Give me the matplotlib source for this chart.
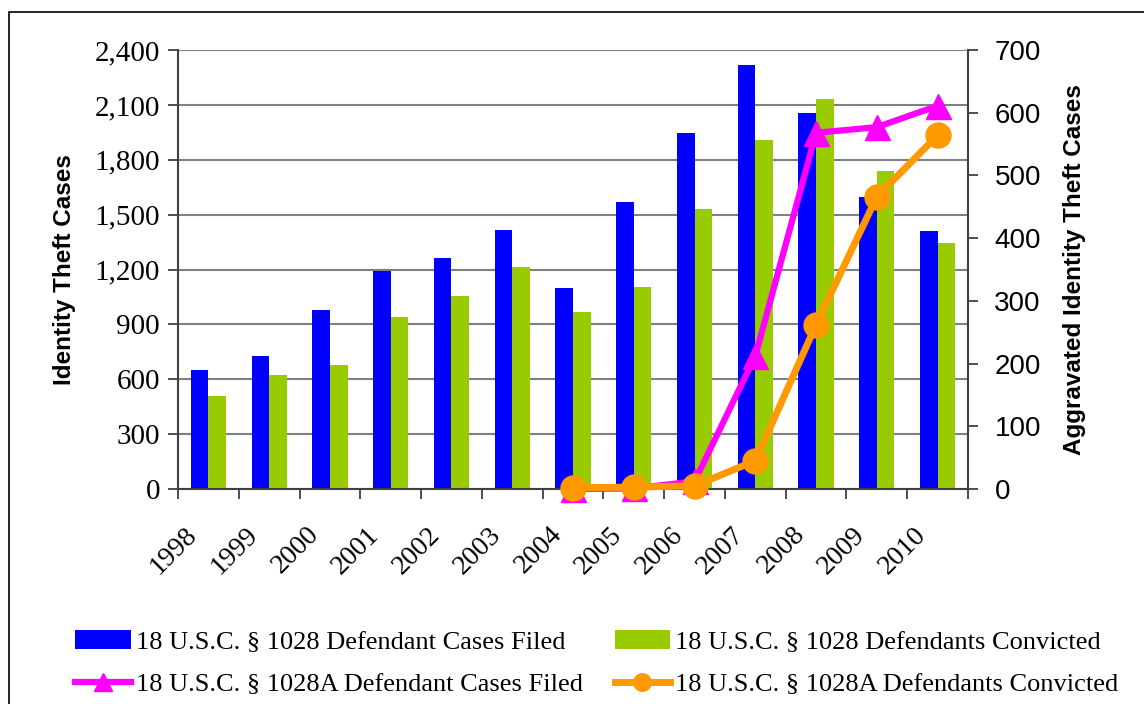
import matplotlib
matplotlib.use("Agg")
import matplotlib.pyplot as plt
from matplotlib.patches import Rectangle
from matplotlib.ticker import FuncFormatter
from matplotlib.transforms import ScaledTranslation
import numpy as np

years = ["1998", "1999", "2000", "2001", "2002", "2003", "2004",
         "2005", "2006", "2007", "2008", "2009", "2010"]
filed_1028 = [651, 728, 979, 1192, 1264, 1417, 1099, 1570, 1947, 2319, 2057, 1597, 1411]
convicted_1028 = [509, 624, 678, 941, 1056, 1214, 968, 1105, 1532, 1909, 2133, 1739, 1346]
years_1028a = ["2004", "2005", "2006", "2007", "2008", "2009", "2010"]
filed_1028a = [0, 1, 12, 212, 568, 577, 611]
convicted_1028a = [2, 3, 5, 45, 262, 466, 564]

labels = ["18 U.S.C. § 1028 Defendant Cases Filed",
          "18 U.S.C. § 1028 Defendants Convicted",
          "18 U.S.C. § 1028A Defendant Cases Filed",
          "18 U.S.C. § 1028A Defendants Convicted"]

SERIF = ["Liberation Serif", "DejaVu Serif"]
SANS = ["Liberation Sans", "DejaVu Sans"]

fig = plt.figure(figsize=(11.44, 7.04), dpi=100)
ax = fig.add_axes([178/1144, 1-489/704, (968-178)/1144, (489-50)/704])

x = np.arange(len(years))
bw = 0.29
b1 = ax.bar(x - bw/2, filed_1028, width=bw, color="#0000FF", zorder=2)
b2 = ax.bar(x + bw/2, convicted_1028, width=bw, color="#99CC00", zorder=2)

ax.set_xlim(-0.5, len(years) - 0.5)
ax.set_ylim(0, 2400)
ax.set_yticks(np.arange(0, 2401, 300))
ax.yaxis.set_major_formatter(FuncFormatter(lambda v, p: f"{int(v):,}"))
ax.grid(axis="y", color="#808080", linewidth=1.5, zorder=0)
ax.set_axisbelow(True)

# category labels drawn as rotated texts below each category
ax.set_xticks(np.arange(-0.5, len(years), 1))
ax.set_xticklabels([])
ax.tick_params(axis="x", length=7, width=1.3, color="#404040", direction="out")
lab_tr = ax.get_xaxis_transform() + ScaledTranslation(-0.24, -0.33, fig.dpi_scale_trans)
for i, y in enumerate(years):
    ax.text(i, 0, y, transform=lab_tr, rotation=45, ha="right", va="top",
            rotation_mode="anchor", family=SERIF, fontsize=20, clip_on=False)

ax.tick_params(axis="y", length=7, width=1.3, color="#404040", direction="out", pad=6)
for lab in ax.get_yticklabels():
    lab.set_family(SERIF)
    lab.set_fontsize(21)

for s in ["top", "right"]:
    ax.spines[s].set_visible(False)
for s in ["left", "bottom"]:
    ax.spines[s].set_color("#404040")
    ax.spines[s].set_linewidth(1.5)

ax.set_ylabel("Identity Theft Cases", family=SANS, fontweight="bold", fontsize=17.5, labelpad=13)

ax2 = ax.twinx()
idx = [years.index(y) for y in years_1028a]
l1, = ax2.plot(idx, filed_1028a, color="#FF00FF", lw=4.5, marker="^", ms=18, clip_on=False,
               zorder=3)
l2, = ax2.plot(idx, convicted_1028a, color="#FF9900", lw=5, marker="o", ms=18, clip_on=False,
               zorder=4)
ax2.set_ylim(0, 700)
ax2.set_yticks(np.arange(0, 701, 100))
ax2.tick_params(axis="y", length=7, width=1.3, color="#404040", direction="out", pad=12)
for lab in ax2.get_yticklabels():
    lab.set_family(SANS)
    lab.set_fontsize(20)
for s in ["top", "left", "bottom"]:
    ax2.spines[s].set_visible(False)
ax2.spines["right"].set_color("#404040")
ax2.spines["right"].set_linewidth(1.5)
ax2.set_ylabel("Aggravated Identity Theft Cases", family=SANS, fontweight="bold",
               fontsize=17.5, labelpad=16)

handles = [b1, l1, b2, l2]
leg_labels = [labels[0], labels[2], labels[1], labels[3]]
fig.legend(handles, leg_labels, ncol=2, loc="center", bbox_to_anchor=(0.5217, 0.058),
           frameon=False, prop={"family": SERIF, "size": 19},
           handlelength=2.1, handletextpad=0.2, columnspacing=1.2, labelspacing=0.7,
           markerscale=0.7)

fig.add_artist(Rectangle((9/1144, -0.2), 2.0, 0.2 + 1 - 12/704, transform=fig.transFigure,
                         fill=False, edgecolor="black", linewidth=1.2, clip_on=False))

fig.savefig("out.png", dpi=100)
